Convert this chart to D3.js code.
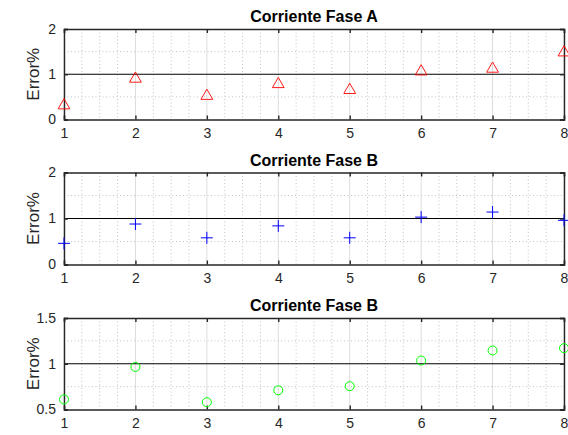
<!DOCTYPE html>
<meta charset="utf-8">
<style>
body { margin: 0; background: #fff; }
svg { font-family: "Liberation Sans", Arial, sans-serif; }
.tick text { font-size: 14px; fill: #262626; }
.title { font-size: 16px; font-weight: bold; fill: #000; }
.ylabel { font-size: 17px; fill: #262626; }
</style>
<script src="https://cdn.jsdelivr.net/npm/d3@7"></script>
<body>
<script>

var categories = [1, 2, 3, 4, 5, 6, 7, 8];

var faseA = [0.31, 0.90, 0.52, 0.78, 0.65, 1.06, 1.12, 1.48];
var faseB = [0.46, 0.88, 0.58, 0.84, 0.58, 1.03, 1.14, 0.96];
var faseC = [0.61, 0.965, 0.58, 0.71, 0.755, 1.035, 1.145, 1.17];

var titles = ["Corriente Fase A", "Corriente Fase B", "Corriente Fase B"];
var yDomains = [[0, 2], [0, 2], [0.5, 1.5]];
var yTicks = [[0, 1, 2], [0, 1, 2], [0.5, 1, 1.5]];
var yMinor = [[0.5, 1.5], [0.5, 1.5], [0.75, 1.25]];

var width = 568, height = 435;
var left = 64, right = 564;

var panels = [
  {top: 29, bottom: 119.5, data: faseA, marker: "triangle", color: "#ff0000"},
  {top: 172.5, bottom: 264.5, data: faseB, marker: "plus", color: "#0000ff"},
  {top: 318, bottom: 409.5, data: faseC, marker: "circle", color: "#00ff00"}
];

var svg = d3.select("body").append("svg")
    .attr("width", width)
    .attr("height", height);

var x = d3.scaleLinear().domain([1, 8]).range([left, right]);

var xMinor = d3.range(1, 8.001, 0.25).filter(function(d) { return d % 1 != 0; });

panels.forEach(function(p, i) {
  var y = d3.scaleLinear().domain(yDomains[i]).range([p.bottom, p.top]);
  var g = svg.append("g");

  // minor grid
  g.selectAll(".xminor").data(xMinor).enter().append("line")
      .attr("x1", function(d) { return x(d); })
      .attr("x2", function(d) { return x(d); })
      .attr("y1", p.top).attr("y2", p.bottom)
      .attr("stroke", "#bdbdbd")
      .attr("stroke-width", 0.9)
      .attr("stroke-dasharray", "1,2.5");

  g.selectAll(".yminor").data(yMinor[i]).enter().append("line")
      .attr("x1", left).attr("x2", right)
      .attr("y1", function(d) { return y(d); })
      .attr("y2", function(d) { return y(d); })
      .attr("stroke", "#bdbdbd")
      .attr("stroke-width", 0.9)
      .attr("stroke-dasharray", "1,2.5");

  // major x grid
  g.selectAll(".xmajor").data(categories).enter().append("line")
      .attr("x1", function(d) { return x(d); })
      .attr("x2", function(d) { return x(d); })
      .attr("y1", p.top).attr("y2", p.bottom)
      .attr("stroke", "#dcdcdc")
      .attr("stroke-width", 1);

  // reference line at 1
  g.append("line")
      .attr("x1", left).attr("x2", right)
      .attr("y1", y(1)).attr("y2", y(1))
      .attr("stroke", "#000")
      .attr("stroke-width", 1);

  // axes
  var xAxisB = d3.axisBottom(x).tickValues(categories).tickSize(-4).tickPadding(9).tickFormat(d3.format("d"));
  var xAxisT = d3.axisTop(x).tickValues(categories).tickSize(-4).tickFormat("");
  var yAxisL = d3.axisLeft(y).tickValues(yTicks[i]).tickSize(-4).tickPadding(8).tickFormat(function(d) { return d3.format("")(d); });
  var yAxisR = d3.axisRight(y).tickValues(yTicks[i]).tickSize(-4).tickFormat("");

  [
    g.append("g").attr("transform", "translate(0," + p.bottom + ")").call(xAxisB),
    g.append("g").attr("transform", "translate(0," + p.top + ")").call(xAxisT),
    g.append("g").attr("transform", "translate(" + left + ",0)").call(yAxisL),
    g.append("g").attr("transform", "translate(" + right + ",0)").call(yAxisR)
  ].forEach(function(a) {
    a.attr("font-family", null).attr("font-size", null);
    a.select(".domain").attr("stroke", "#262626").attr("stroke-width", 1.4);
    a.selectAll(".tick line").attr("stroke", "#262626").attr("stroke-width", 1.4);
  });

  // title
  svg.append("text")
      .attr("class", "title")
      .attr("x", (left + right) / 2)
      .attr("y", p.top - 7)
      .attr("text-anchor", "middle")
      .text(titles[i]);

  // y label
  svg.append("text")
      .attr("class", "ylabel")
      .attr("transform", "translate(39," + ((p.top + p.bottom) / 2) + ") rotate(-90)")
      .attr("text-anchor", "middle")
      .text("Error%");

  // markers
  var pts = g.selectAll(".pt").data(p.data).enter();
  if (p.marker == "triangle") {
    pts.append("path")
        .attr("d", d3.symbol().type(d3.symbolTriangle).size(60))
        .attr("transform", function(d, j) { return "translate(" + x(categories[j]) + "," + y(d) + ")"; })
        .attr("fill", "none")
        .attr("stroke", p.color)
        .attr("stroke-width", 0.9);
  } else if (p.marker == "plus") {
    pts.append("path")
        .attr("d", "M-6,0H6M0,-6V6")
        .attr("transform", function(d, j) { return "translate(" + x(categories[j]) + "," + y(d) + ")"; })
        .attr("fill", "none")
        .attr("stroke", p.color)
        .attr("stroke-width", 1);
  } else {
    pts.append("circle")
        .attr("cx", function(d, j) { return x(categories[j]); })
        .attr("cy", function(d) { return y(d); })
        .attr("r", 4.5)
        .attr("fill", "none")
        .attr("stroke", p.color)
        .attr("stroke-width", 1);
  }
});

</script>
</body>
